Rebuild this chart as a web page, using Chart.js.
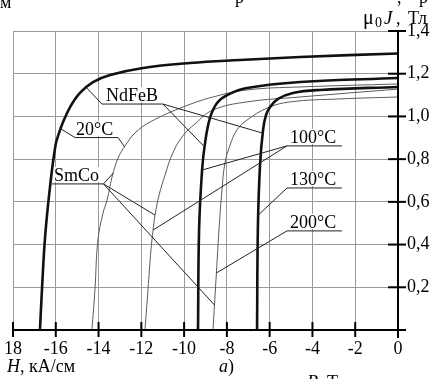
<!DOCTYPE html>
<html lang="ru">
<head>
<meta charset="utf-8">
<title>Кривые размагничивания NdFeB и SmCo</title>
<script src="https://cdn.jsdelivr.net/npm/chart.js@4.4.1/dist/chart.umd.min.js"></script>
<style>
  html, body { margin: 0; padding: 0; background: #fff; }
  #wrap { width: 434px; height: 379px; }
</style>
</head>
<body>
<div id="wrap"><canvas id="demag-chart" width="434" height="379"></canvas></div>
<script>
/*
 * Axis ticks
**/
const hTicks = [-18, -16, -14, -12, -10, -8, -6, -4, -2, 0]
const hTickLabels = ['18', '-16', '-14', '-12', '-10', '-8', '-6', '-4', '-2', '0']
const jTicks = [0, 0.2, 0.4, 0.6, 0.8, 1.0, 1.2, 1.4]
const jTickLabels = ['', '0,2', '0,4', '0,6', '0,8', '1,0', '1,2', '1,4']

/*
 * Curves: H in kA/cm, mu0*J in T
**/
// NdFeB (thick)
const ndfeb20H = [-16.74, -16.64, -16.50, -16.27, -16.01, -15.85, -15.66, -15.33, -14.87, -14.26, -13.46, -11.92, -9.72, -7.39, -4.58, 0]
const ndfeb20J = [0, 0.20, 0.435, 0.67, 0.866, 0.922, 0.974, 1.044, 1.11, 1.161, 1.194, 1.227, 1.25, 1.264, 1.278, 1.295]
const ndfeb100H = [-9.35, -9.30, -9.16, -9.02, -8.79, -8.46, -7.99, -7.06, -4.58, 0]
const ndfeb100J = [0, 0.468, 0.749, 0.876, 0.993, 1.063, 1.100, 1.133, 1.161, 1.180]
const ndfeb130H = [-6.59, -6.55, -6.45, -6.31, -6.17, -5.98, -5.61, -4.91, -3.65, 0]
const ndfeb130J = [0, 0.482, 0.773, 0.936, 1.007, 1.044, 1.082, 1.110, 1.124, 1.138]

// SmCo (thin)
const smco20H = [-14.31, -14.17, -14.03, -13.79, -13.60, -13.37, -13.09, -12.76, -12.30, -11.59, -10.05, -8.65, -7.06, -4.58, 0]
const smco20J = [0, 0.187, 0.421, 0.548, 0.609, 0.716, 0.805, 0.862, 0.922, 0.974, 1.044, 1.091, 1.124, 1.138, 1.152]
const smco100H = [-11.83, -11.69, -11.55, -11.45, -11.36, -11.17, -10.89, -10.57, -10.10, -9.49, -8.65, -7.06, -4.58, 0]
const smco100J = [0, 0.187, 0.375, 0.468, 0.538, 0.632, 0.726, 0.819, 0.904, 0.965, 1.030, 1.068, 1.091, 1.128]
const smco200H = [-8.65, -8.51, -8.37, -8.23, -8.09, -7.85, -7.53, -7.06, -6.12, -5.05, -2.71, 0]
const smco200J = [0, 0.234, 0.468, 0.655, 0.782, 0.866, 0.937, 0.983, 1.039, 1.068, 1.082, 1.091]

/*
 * Callouts: text, underline and leader ends, in data units (H, J)
**/
const callouts = [
  { text: 'NdFeB', h: -13.65, j: 1.072, u0: -13.84, u1: -10.99, uj: 1.058,
    left: [[-14.55, 1.133]], right: [[-9.04, 0.857], [-6.33, 0.922]] },
  { text: '20°C', h: -15.05, j: 0.913, u0: -15.10, u1: -13.09, uj: 0.901,
    left: [[-15.80, 0.944]], right: [[-12.78, 0.857]] },
  { text: 'SmCo', h: -16.08, j: 0.698, u0: -16.18, u1: -13.77, uj: 0.684,
    left: [], right: [[-13.31, 0.735], [-11.36, 0.538], [-8.58, 0.117]] },
  { text: '100°C', h: -5.05, j: 0.876, u0: -5.19, u1: -2.62, uj: 0.862,
    left: [[-9.16, 0.749], [-11.45, 0.468]], right: [] },
  { text: '130°C', h: -5.05, j: 0.679, u0: -5.19, u1: -2.62, uj: 0.665,
    left: [[-6.53, 0.538]], right: [] },
  { text: '200°C', h: -5.05, j: 0.478, u0: -5.19, u1: -2.62, uj: 0.464,
    left: [[-8.49, 0.267]], right: [] }
]

const FONT = '"Liberation Serif", "Times New Roman", serif'
const GRID = '#9a9a9a'

const toPoints = (hs, js) => hs.map((h, i) => ({ x: h, y: js[i] }))

const curve = (hs, js, thick) => ({
  data: toPoints(hs, js),
  showLine: true,
  borderColor: thick ? '#111' : '#5a5a5a',
  borderWidth: thick ? 2.6 : 1,
  pointRadius: 0,
  fill: false,
  tension: 0.4
})

const line = (ctx, x1, y1, x2, y2) => {
  ctx.beginPath()
  ctx.moveTo(x1, y1)
  ctx.lineTo(x2, y2)
  ctx.stroke()
}

// white boxes under the callout texts, so grid lines stop there
const calloutBoxes = {
  id: 'calloutBoxes',
  beforeDatasetsDraw(chart) {
    const { ctx, scales: { x, y } } = chart
    ctx.save()
    ctx.font = '18px ' + FONT
    ctx.fillStyle = '#fff'
    callouts.forEach((c) => {
      const px = x.getPixelForValue(c.h)
      const py = y.getPixelForValue(c.j)
      const w = ctx.measureText(c.text).width
      ctx.fillRect(px - 1, py - 14, w + 2, 15)
    })
    ctx.restore()
  }
}

// black axes with crossing ticks + callouts
const axesAndCallouts = {
  id: 'axesAndCallouts',
  afterDatasetsDraw(chart) {
    const { ctx, chartArea: a, scales: { x, y } } = chart
    const x0 = x.getPixelForValue(0)
    const y0 = y.getPixelForValue(0)
    ctx.save()
    ctx.strokeStyle = '#000'
    ctx.lineWidth = 2
    line(ctx, a.left, y0, x0 + 8, y0)
    line(ctx, x0, a.top, x0, y0 + 8)
    hTicks.forEach((v) => {
      const px = x.getPixelForValue(v)
      line(ctx, px, y0 - 8, px, y0 + 7)
    })
    jTicks.forEach((v) => {
      if (v <= 0) return
      const py = y.getPixelForValue(v)
      line(ctx, x0 - 10, py, x0 + 8, py)
    })

    ctx.font = '18px ' + FONT
    ctx.fillStyle = '#000'
    ctx.strokeStyle = '#222'
    ctx.lineWidth = 1
    callouts.forEach((c) => {
      ctx.fillText(c.text, x.getPixelForValue(c.h), y.getPixelForValue(c.j))
      const ux0 = x.getPixelForValue(c.u0)
      const ux1 = x.getPixelForValue(c.u1)
      const uy = y.getPixelForValue(c.uj)
      line(ctx, ux0, uy, ux1, uy)
      c.left.forEach(([h, j]) => line(ctx, ux0, uy, x.getPixelForValue(h), y.getPixelForValue(j)))
      c.right.forEach(([h, j]) => line(ctx, ux1, uy, x.getPixelForValue(h), y.getPixelForValue(j)))
    })
    ctx.restore()
  }
}

// axis titles and the cut text at the edges of the page
const pageText = {
  id: 'pageText',
  afterDraw(chart) {
    const ctx = chart.ctx
    const put = (s, px, py, style, size) => {
      ctx.font = (style || '') + ' ' + (size || 18) + 'px ' + FONT
      ctx.fillText(s, px, py)
      return px + ctx.measureText(s).width
    }
    ctx.save()
    ctx.fillStyle = '#000'
    ctx.textBaseline = 'alphabetic'
    // cropped line above
    put('м', 0, 8)
    put('р', 235, 3)
    put(',', 397, 3)
    put('р', 419, 3)
    // y title
    put('μ', 363, 24, '', 20)
    put('0', 375, 27, '', 14)
    put('J', 384, 24, 'italic', 19)
    put(',', 396, 24)
    put('Тл', 408, 24)
    // x title
    let cx = put('H', 7, 372, 'italic')
    put(', кА/см', cx, 372)
    // subfigure
    cx = put('а', 219, 372, 'italic')
    put(')', cx, 372)
    // cropped line below
    cx = put('B', 307, 388, 'italic')
    put(', Тл', cx, 388)
    ctx.restore()
  }
}

new Chart(document.getElementById('demag-chart'), {
  type: 'scatter',
  data: {
    datasets: [
      curve(ndfeb20H, ndfeb20J, true),
      curve(ndfeb100H, ndfeb100J, true),
      curve(ndfeb130H, ndfeb130J, true),
      curve(smco20H, smco20J, false),
      curve(smco100H, smco100J, false),
      curve(smco200H, smco200J, false)
    ]
  },
  options: {
    responsive: false,
    devicePixelRatio: 1,
    animation: false,
    events: [],
    layout: { padding: { left: 13, top: 31, right: 0, bottom: 0 } },
    plugins: { legend: { display: false }, tooltip: { enabled: false } },
    scales: {
      x: {
        type: 'linear',
        min: -18,
        max: 0,
        afterBuildTicks: (s) => { s.ticks = hTicks.map((v) => ({ value: v })) },
        afterFit: (s) => { s.height = 49 },
        ticks: {
          color: '#000',
          font: { family: FONT, size: 18 },
          padding: 0,
          maxRotation: 0,
          autoSkip: false,
          callback: (v, i) => hTickLabels[i]
        },
        grid: { color: GRID, lineWidth: 1, drawTicks: true, tickLength: 8, tickColor: 'rgba(0,0,0,0)' },
        border: { display: false }
      },
      y: {
        type: 'linear',
        position: 'right',
        min: 0,
        max: 1.4,
        afterBuildTicks: (s) => { s.ticks = jTicks.map((v) => ({ value: v })) },
        afterFit: (s) => { s.width = 36 },
        ticks: {
          color: '#000',
          font: { family: FONT, size: 18 },
          padding: 9,
          autoSkip: false,
          callback: (v, i) => jTickLabels[i]
        },
        grid: { color: GRID, lineWidth: 1, drawTicks: false },
        border: { display: false }
      }
    }
  },
  plugins: [calloutBoxes, axesAndCallouts, pageText]
})
</script>
</body>
</html>
